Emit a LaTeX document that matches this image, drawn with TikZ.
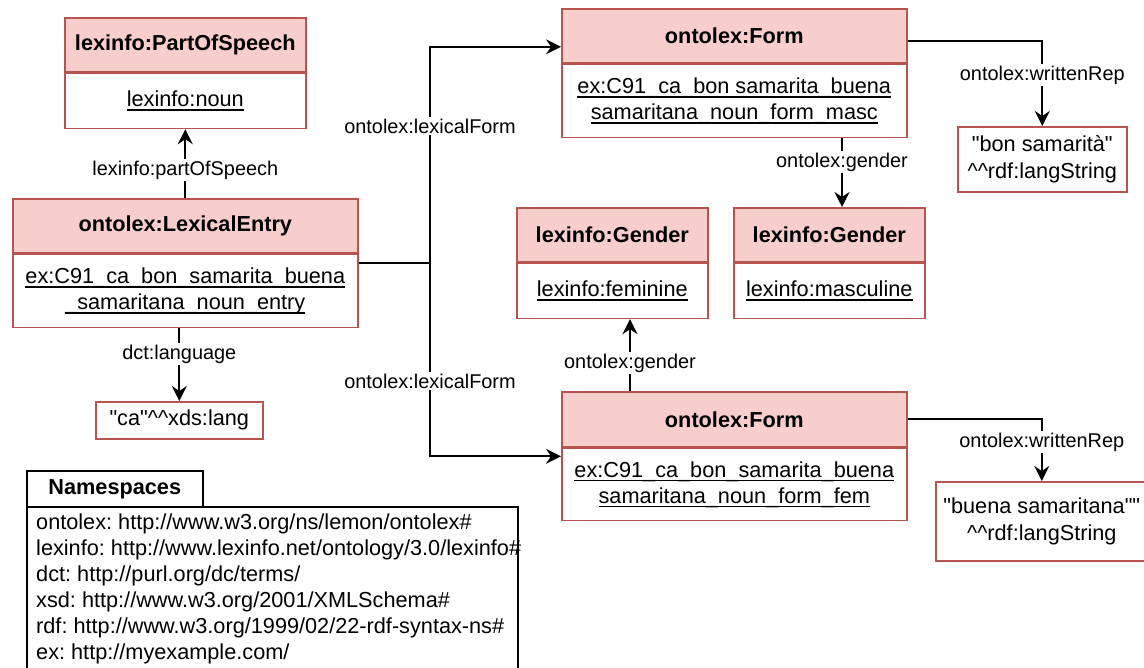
\documentclass[tikz,border=0pt]{standalone}
\usepackage{fontspec}
\setmainfont{Liberation Sans}
\usetikzlibrary{arrows.meta,calc}

\definecolor{hdrfill}{HTML}{F8CECC}
\definecolor{hdrline}{HTML}{B85450}

% underline set close to the baseline
\newsavebox\ulbox
\newcommand\ulin[1]{\sbox\ulbox{#1}\rlap{\rule[-4pt]{\wd\ulbox}{1.5pt}}\usebox\ulbox}
\newcommand\dq{\textquotedbl}
\newcommand\cc{\textasciicircum\textasciicircum}

\begin{document}
\frenchspacing
\begin{tikzpicture}[x=1pt,y=-1pt,
  hdr/.style={draw=hdrline,fill=hdrfill,line width=1.6pt,inner sep=0pt,anchor=north west,
    font=\fontsize{21.7}{26}\selectfont\bfseries},
  bodybox/.style={draw=hdrline,fill=white,line width=1.6pt,inner sep=0pt,anchor=north,
    align=center,font=\fontsize{21.7}{26}\selectfont},
  litbox/.style={draw=hdrline,fill=white,line width=1.6pt,inner sep=0pt,anchor=north west,
    align=center,font=\fontsize{21.7}{27}\selectfont},
  nsbox/.style={draw=black,fill=white,line width=1.6pt,inner sep=0pt,anchor=north west},
  nsline/.style={anchor=base west,inner sep=0pt,font=\fontsize{21.7}{26}\selectfont},
  lbl/.style={fill=white,inner sep=1.5pt,font=\fontsize{19.9}{24}\selectfont},
  link/.style={draw=black,line width=1.8pt},
  arr/.style={link,-{Stealth[length=15pt,width=15pt,inset=5pt]}}]

\useasboundingbox (0,0) rectangle (1144,668);

% lexinfo:PartOfSpeech
\node[hdr,minimum width=241pt,minimum height=54pt] (pos-h) at (64,17) {lexinfo:PartOfSpeech};
\node[bodybox,minimum width=241pt,minimum height=55pt] (pos-b) at (pos-h.south) {\ulin{lexinfo:noun}};

% ontolex:LexicalEntry
\node[hdr,minimum width=345pt,minimum height=54pt] (lex-h) at (12,198) {ontolex:LexicalEntry};
\node[bodybox,minimum width=345pt,minimum height=73pt] (lex-b) at (lex-h.south)
  {\ulin{ex:C91\_ca\_bon\_samarita\_buena}\\\ulin{\_samaritana\_noun\_entry}};

% language literal
\node[litbox,minimum width=167pt,minimum height=37pt] (ca) at (95,401) {\dq ca\dq\cc xds:lang};

% ontolex:Form (masculine)
\node[hdr,minimum width=345pt,minimum height=54pt] (fm-h) at (561,8) {ontolex:Form};
\node[bodybox,minimum width=345pt,minimum height=73pt] (fm-b) at (fm-h.south)
  {\ulin{ex:C91\_ca\_bon samarita\_buena}\\\ulin{samaritana\_noun\_form\_masc}};

% ontolex:Form (feminine)
\node[hdr,minimum width=345pt,minimum height=55pt] (ff-h) at (561,391) {ontolex:Form};
\node[bodybox,minimum width=345pt,minimum height=72pt] (ff-b) at (ff-h.south)
  {\ulin{ex:C91\_ca\_bon\_samarita\_buena}\\\ulin{samaritana\_noun\_form\_fem}};

% lexinfo:Gender boxes
\node[hdr,minimum width=191pt,minimum height=54pt] (gf-h) at (516,207) {lexinfo:Gender};
\node[bodybox,minimum width=191pt,minimum height=55pt] (gf-b) at (gf-h.south) {\ulin{lexinfo:feminine}};
\node[hdr,minimum width=191pt,minimum height=54pt] (gm-h) at (733,207) {lexinfo:Gender};
\node[bodybox,minimum width=191pt,minimum height=55pt] (gm-b) at (gm-h.south) {\ulin{lexinfo:masculine}};

% written representations
\node[litbox,minimum width=169pt,minimum height=65pt] (wm) at (957,126)
  {\dq bon samarità\dq\\\cc rdf:langString};
\node[litbox,minimum width=212pt,minimum height=79pt] (wf) at (935,481)
  {\dq buena samaritana\dq\dq\\\cc rdf:langString};

% namespaces
\node[nsbox,minimum width=491pt,minimum height=175pt] (ns-b) at (26,506) {};
\node[nsbox,minimum width=176pt,minimum height=36pt,font=\fontsize{21.7}{26}\selectfont\bfseries] (ns-h) at (26,470) {Namespaces};
\node[nsline] (ns1) at (36,529) {ontolex: http://www.w3.org/ns/lemon/ontolex\#};
\node[nsline] (ns2) at (36,555) {lexinfo: http://www.lexinfo.net/ontology/3.0/lexinfo\#};
\node[nsline] (ns3) at (36,581) {dct: http://purl.org/dc/terms/};
\node[nsline] (ns4) at (36,607) {xsd: http://www.w3.org/2001/XMLSchema\#};
\node[nsline] (ns5) at (36,633) {rdf: http://www.w3.org/1999/02/22-rdf-syntax-ns\#};
\node[nsline] (ns6) at (36,659) {ex: http://myexample.com/};

% connector anchor points
\coordinate (lexE) at ($(lex-h.north east)!.5!(lex-b.south east)$);
\coordinate (jn) at (430,0 |- lexE);
\coordinate (fmIn) at ([yshift=-11pt]fm-h.west);
\coordinate (ffIn) at ([yshift=-37pt]ff-h.west);
\coordinate (fmOut) at ([yshift=-5pt]fm-h.east);
\coordinate (gmOut) at (842,0 |- fm-b.south);
\coordinate (gfOut) at (630,0 |- ff-h.north);

% connectors
\draw[arr] (lex-h.north) -- (pos-b.south);
\draw[arr] (ca.north |- lex-b.south) -- (ca.north);
\draw[link] (lexE) -- (jn);
\draw[arr] (jn) |- (fmIn);
\draw[arr] (jn) |- (ffIn);
\draw[arr] (fmOut) -| (wm.north);
\draw[arr] (ff-h.east) -| (wf.north);
\draw[arr] (gmOut) -- (gmOut |- gm-h.north);
\draw[arr] (gfOut) -- (gfOut |- gf-b.south);

% connector labels
\node[lbl] (l-pos) at (lex-h.north |- 0,170) {lexinfo:partOfSpeech};
\node[lbl] (l-lang) at (ca.north |- 0,354) {dct:language};
\node[lbl] (l-lf1) at (430,126) {ontolex:lexicalForm};
\node[lbl] (l-lf2) at (430,381) {ontolex:lexicalForm};
\node[lbl] (l-wr1) at (wm.north |- 0,75) {ontolex:writtenRep};
\node[lbl] (l-wr2) at (wf.north |- 0,442) {ontolex:writtenRep};
\node[lbl] (l-g1) at (842,162) {ontolex:gender};
\node[lbl] (l-g2) at (630,363) {ontolex:gender};
\end{tikzpicture}
\end{document}
